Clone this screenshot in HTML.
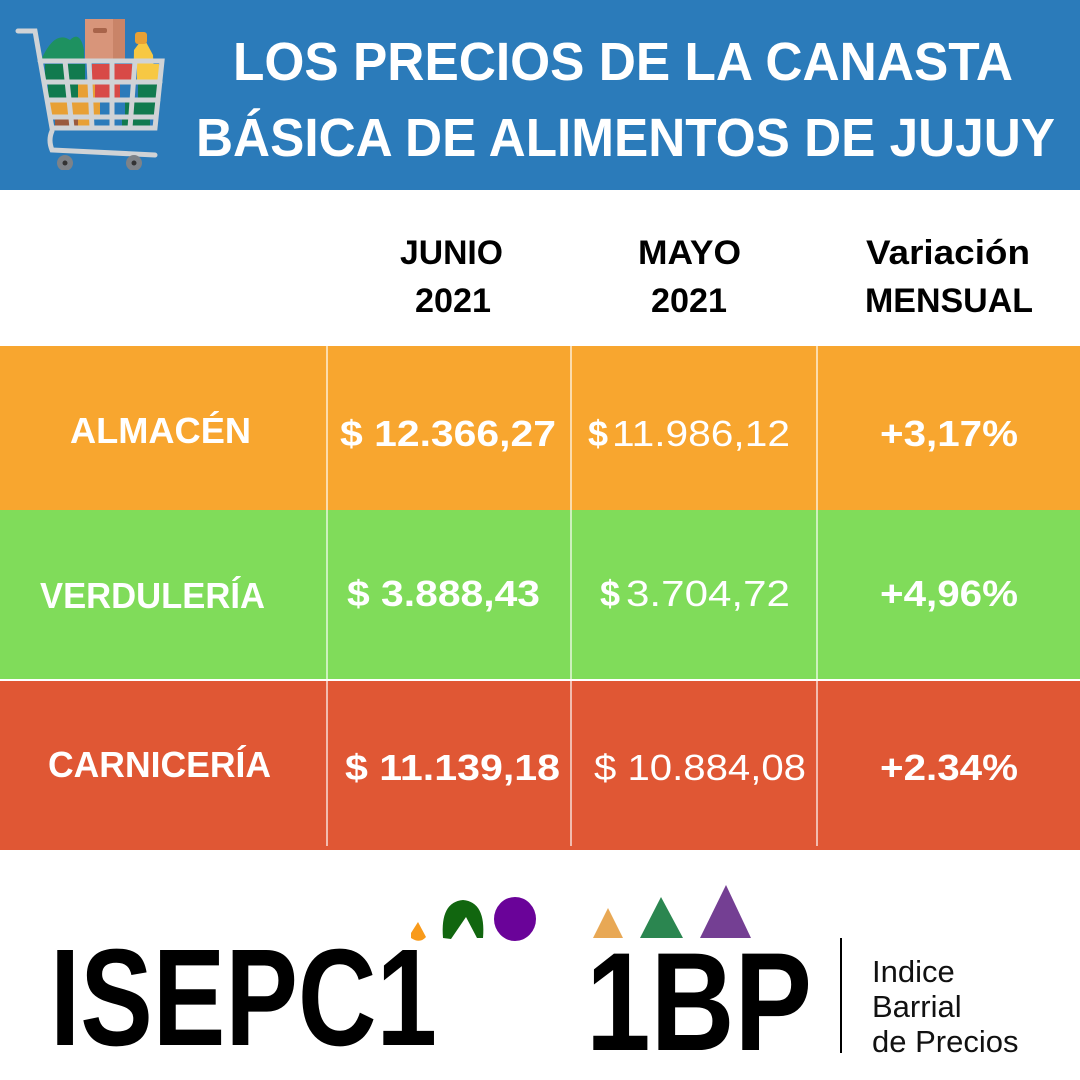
<!DOCTYPE html>
<html><head><meta charset="utf-8"><style>
html,body{margin:0;padding:0;background:#fff;}
svg{display:block}
text{font-family:"Liberation Sans",sans-serif;}
</style></head><body>
<svg width="1080" height="1080" viewBox="0 0 1080 1080" xmlns="http://www.w3.org/2000/svg">
<rect x="0" y="0" width="1080" height="190" fill="#2B7BBA"/>
<g>
<path d="M42 58 Q55 30 70 40 Q80 30 84 50 L84 60 L42 60Z" fill="#1E9160"/>
<rect x="85" y="19" width="40" height="42" fill="#D8957A"/>
<rect x="113" y="19" width="12" height="42" fill="#C98468"/>
<rect x="93" y="28" width="14" height="5" rx="2" fill="#A8644A"/>
<path d="M134 50 L140 42 L146 42 L153 55 L155 95 L133 95Z" fill="#F7C843"/>
<rect x="135" y="32" width="12" height="12" rx="3" fill="#E8A035"/>
<rect x="45" y="64" width="115" height="66" fill="#2B7BBA"/>
<rect x="45" y="64" width="40" height="18" fill="#117A4E"/>
<rect x="92" y="64" width="40" height="18" fill="#D84A47"/>
<rect x="137" y="64" width="22" height="18" fill="#F7C843"/>
<rect x="48" y="82" width="30" height="18" fill="#117A4E"/>
<rect x="78" y="82" width="40" height="18" fill="#E8A035"/>
<rect x="95" y="82" width="25" height="18" fill="#D84A47"/>
<rect x="138" y="82" width="20" height="18" fill="#117A4E"/>
<rect x="50" y="100" width="50" height="16" fill="#E8A035"/>
<rect x="125" y="100" width="30" height="16" fill="#117A4E"/>
<rect x="55" y="116" width="30" height="14" fill="#9A5A3E"/>
<rect x="78" y="116" width="12" height="14" fill="#E8A035"/>
<rect x="122" y="116" width="28" height="14" fill="#117A4E"/>
<g stroke="#D0D3D6" stroke-width="5" fill="none" stroke-linecap="round">
<path d="M18 31 L35 31 L52 128 L155 128 L162 61 L40 61"/>
<path d="M45 82 L160 82 M48 100 L158 100 M51 117 L156 117"/>
<path d="M65 61 L72 128 M89 61 L92 128 M112 61 L112 128 M135 61 L130 128"/>
<path d="M52 131 Q48 140 52 150 L155 155"/>
</g>
<circle cx="65" cy="163" r="8" fill="#7D8288"/><circle cx="134" cy="163" r="8" fill="#7D8288"/>
<circle cx="65" cy="163" r="2.5" fill="#333"/><circle cx="134" cy="163" r="2.5" fill="#333"/>
<rect x="50" y="170" width="100" height="8" fill="#2B7BBA"/>
</g>
<g fill="#fff" font-weight="bold" font-size="54">
<text x="233" y="80" textLength="780" lengthAdjust="spacingAndGlyphs">LOS PRECIOS DE LA CANASTA</text>
<text x="196" y="156" textLength="859" lengthAdjust="spacingAndGlyphs">BÁSICA DE ALIMENTOS DE JUJUY</text>
</g>
<g fill="#000" font-weight="bold" font-size="34">
<text x="400" y="264" textLength="103" lengthAdjust="spacingAndGlyphs">JUNIO</text>
<text x="415" y="312" textLength="76" lengthAdjust="spacingAndGlyphs">2021</text>
<text x="638" y="264" textLength="103" lengthAdjust="spacingAndGlyphs">MAYO</text>
<text x="651" y="312" textLength="76" lengthAdjust="spacingAndGlyphs">2021</text>
<text x="866" y="264" textLength="164" lengthAdjust="spacingAndGlyphs">Variación</text>
<text x="865" y="312" textLength="168" lengthAdjust="spacingAndGlyphs">MENSUAL</text>
</g>
<rect x="0" y="346" width="1080" height="164" fill="#F8A62F"/>
<rect x="0" y="510" width="1080" height="169" fill="#80DC5A"/>
<rect x="0" y="681" width="1080" height="169" fill="#E05734"/>
<g stroke="#fff" stroke-width="1.5" opacity="0.8">
<line x1="327" y1="346" x2="327" y2="846"/><line x1="571" y1="346" x2="571" y2="846"/><line x1="817" y1="346" x2="817" y2="846"/>
</g>
<g fill="#fff" font-size="36">
<g font-weight="bold">
<text x="70" y="443" textLength="181" lengthAdjust="spacingAndGlyphs">ALMACÉN</text>
<text x="340" y="446" textLength="216" lengthAdjust="spacingAndGlyphs">$ 12.366,27</text>
<text x="588" y="446">$</text>
<text x="880" y="446" textLength="138" lengthAdjust="spacingAndGlyphs">+3,17%</text>
<text x="40" y="608" textLength="225" lengthAdjust="spacingAndGlyphs">VERDULERÍA</text>
<text x="347" y="606" textLength="193" lengthAdjust="spacingAndGlyphs">$ 3.888,43</text>
<text x="600" y="606">$</text>
<text x="880" y="606" textLength="138" lengthAdjust="spacingAndGlyphs">+4,96%</text>
<text x="48" y="777" textLength="223" lengthAdjust="spacingAndGlyphs">CARNICERÍA</text>
<text x="345" y="780" textLength="215" lengthAdjust="spacingAndGlyphs">$ 11.139,18</text>
<text x="880" y="780" textLength="138" lengthAdjust="spacingAndGlyphs">+2.34%</text>
</g>
<text x="612" y="446" textLength="178" lengthAdjust="spacingAndGlyphs">11.986,12</text>
<text x="626" y="606" textLength="164" lengthAdjust="spacingAndGlyphs">3.704,72</text>
<text x="594" y="780" textLength="212" lengthAdjust="spacingAndGlyphs">$ 10.884,08</text>
</g>
<text x="50" y="1045" font-size="138" font-weight="bold" fill="#000" textLength="387" lengthAdjust="spacingAndGlyphs">ISEPC1</text>
<path d="M411 933 L418 922 L426 937 Q420 944 411 938Z" fill="#F89A1A"/>
<path d="M443 938 Q440 902 463 900 Q486 902 483 938 L477 938 L466 917 L451 939Z" fill="#11660F"/>
<ellipse cx="515" cy="919" rx="21" ry="22" fill="#6A0399"/>
<path d="M593 938 L608 908 L623 938Z" fill="#E8A855"/>
<path d="M640 938 L661 897 L683 938Z" fill="#2B8650"/>
<path d="M700 938 L726 885 L751 938Z" fill="#743F93"/>
<text x="586" y="1050" font-size="140" font-weight="bold" fill="#000" textLength="226" lengthAdjust="spacingAndGlyphs">1BP</text>
<line x1="841" y1="938" x2="841" y2="1053" stroke="#000" stroke-width="2"/>
<g font-size="31" fill="#111">
<text x="872" y="982">Indice</text>
<text x="872" y="1017">Barrial</text>
<text x="872" y="1052">de Precios</text>
</g>
</svg>
</body></html>
